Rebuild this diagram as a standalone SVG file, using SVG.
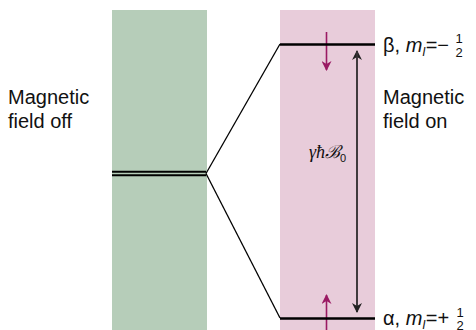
<svg xmlns="http://www.w3.org/2000/svg" width="476" height="330" viewBox="0 0 476 330">
<defs>
<style>
.t{font-family:"Liberation Sans",Arial,sans-serif;font-size:20px;fill:#111}
.fr{font-family:"Liberation Sans",Arial,sans-serif;font-size:13px;fill:#111;text-anchor:middle}
.lvl{stroke:#000;stroke-width:2.6;fill:none}
.ln{stroke:#000;stroke-width:1.3;fill:none}
</style>
<marker id="hk" markerWidth="10" markerHeight="10" refX="9" refY="5" orient="auto" markerUnits="userSpaceOnUse">
<path d="M0,0 L10,5 L0,10 L3,5 Z" fill="#222"/>
</marker>
<marker id="hp" markerWidth="10" markerHeight="10" refX="9" refY="5" orient="auto" markerUnits="userSpaceOnUse">
<path d="M0,0 L10,5 L0,10 L3,5 Z" fill="#9a1a63"/>
</marker>
</defs>
<rect id="offband" x="112" y="10" width="95" height="320" fill="#b6cdb9"/>
<rect id="onband" x="280" y="10" width="95" height="320" fill="#e8ccda"/>
<g id="connectors">
<line class="ln" x1="206" y1="173.5" x2="280" y2="44"/>
<line class="ln" x1="206" y1="173.5" x2="280" y2="318"/>
<line x1="357" y1="312" x2="357" y2="51" stroke="#3a3538" stroke-width="1.6" marker-end="url(#hk)"/>
<line x1="357" y1="51" x2="357" y2="312" stroke="#3a3538" stroke-width="1.6" marker-end="url(#hk)"/>
<line x1="326.5" y1="32" x2="326.5" y2="70" stroke="#9a1a63" stroke-width="1.6" marker-end="url(#hp)"/>
<line x1="326.5" y1="330" x2="326.5" y2="295" stroke="#9a1a63" stroke-width="1.6" marker-end="url(#hp)"/>
</g>
<g id="level-off">
<line x1="112" y1="171.8" x2="206" y2="171.8" stroke="#000" stroke-width="1.9"/>
<line x1="112" y1="175.2" x2="206" y2="175.2" stroke="#000" stroke-width="1.9"/>
</g>
<g id="level-beta">
<line class="lvl" x1="280" y1="44.5" x2="375" y2="44.5"/>
<text class="t" x="383" y="52">β, <tspan font-style="italic">m</tspan><tspan font-style="italic" font-size="12" dy="4">I</tspan><tspan dy="-4">=−</tspan></text>
<text class="fr" x="459" y="43">1</text>
<text class="fr" x="459" y="57">2</text>
</g>
<g id="level-alpha">
<line class="lvl" x1="280" y1="318.5" x2="375" y2="318.5"/>
<text class="t" x="383" y="325">α, <tspan font-style="italic">m</tspan><tspan font-style="italic" font-size="12" dy="4">I</tspan><tspan dy="-4">=+</tspan></text>
<text class="fr" x="460" y="317">1</text>
<text class="fr" x="460" y="330">2</text>
</g>
<g id="label-off">
<text class="t" x="8" y="104">Magnetic</text>
<text class="t" x="8" y="128">field off</text>
</g>
<g id="label-on">
<text class="t" x="383" y="104">Magnetic</text>
<text class="t" x="383" y="128">field on</text>
</g>
<g id="label-gap">
<text x="309" y="158" font-family="'Liberation Serif','DejaVu Serif',serif" font-size="18" font-style="italic" fill="#111">γħℬ<tspan font-size="11" dy="4" font-style="normal" font-family="'Liberation Sans',sans-serif">0</tspan></text>
</g>
</svg>
